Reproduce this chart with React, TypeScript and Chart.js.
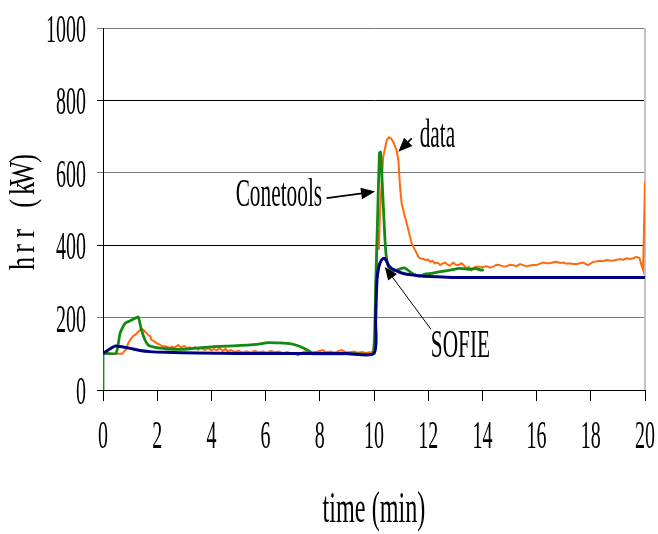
import { useEffect, useRef } from "react";
import { Chart, registerables } from "chart.js";

Chart.register(...registerables);

// Axis ticks
const timeTicks = [0, 2, 4, 6, 8, 10, 12, 14, 16, 18, 20];
const hrrTicks = [0, 200, 400, 600, 800, 1000];

// Measured heat release rate: [time (min), hrr (kW)]
const measuredHrr: [number, number][] = [
  [0, 100], [0.7, 100], [0.85, 112], [0.93, 129], [1.02, 140], [1.12, 150], [1.2, 153], [1.3, 161],
  [1.42, 170], [1.5, 166], [1.55, 161], [1.62, 157], [1.67, 152], [1.75, 148], [1.79, 138], [1.88, 135],
  [1.98, 129], [2.08, 126], [2.16, 122], [2.25, 121], [2.34, 120], [2.45, 116], [2.55, 119], [2.65, 117],
  [2.77, 124], [2.88, 118], [3.0, 121], [3.1, 116], [3.2, 118], [3.3, 114], [3.4, 119], [3.5, 112],
  [3.62, 116], [3.75, 111], [3.88, 115], [4.0, 110], [4.1, 113], [4.2, 110], [4.3, 116], [4.42, 108],
  [4.52, 114], [4.6, 107], [4.72, 110], [4.85, 105], [5.0, 108], [5.15, 104], [5.3, 107], [5.45, 103],
  [5.6, 108], [5.75, 104], [5.9, 106], [6.05, 103], [6.2, 108], [6.35, 104], [6.5, 106], [6.65, 102],
  [6.8, 105], [6.95, 101], [7.1, 99], [7.2, 96], [7.3, 102], [7.45, 106], [7.6, 103], [7.75, 104],
  [7.9, 106], [8.1, 110], [8.25, 104], [8.4, 106], [8.55, 103], [8.7, 108], [8.8, 110], [8.95, 105],
  [9.1, 104], [9.25, 106], [9.4, 103], [9.55, 105], [9.7, 102], [9.85, 104], [9.97, 106], [10.04, 138],
  [10.13, 442], [10.18, 387], [10.22, 488], [10.34, 644], [10.47, 690], [10.55, 698], [10.63, 695],
  [10.71, 686], [10.83, 663], [10.9, 635], [10.96, 562], [11.02, 516], [11.14, 479], [11.27, 442],
  [11.39, 405], [11.51, 387], [11.64, 368], [11.7, 364], [11.82, 362], [11.9, 359], [12.0, 360],
  [12.07, 354], [12.15, 357], [12.25, 350], [12.35, 352], [12.44, 345], [12.53, 349], [12.62, 352],
  [12.72, 346], [12.8, 343], [12.92, 352], [13.0, 347], [13.1, 345], [13.23, 350], [13.32, 344],
  [13.42, 336], [13.5, 340], [13.6, 331], [13.7, 338], [13.79, 341], [13.97, 339], [14.16, 342],
  [14.3, 338], [14.4, 341], [14.52, 346], [14.65, 345], [14.78, 341], [14.9, 342], [15.02, 346],
  [15.14, 345], [15.26, 342], [15.39, 348], [15.5, 345], [15.63, 341], [15.75, 344], [15.87, 345],
  [16.0, 345], [16.12, 349], [16.25, 352], [16.38, 350], [16.5, 350], [16.62, 353], [16.74, 354],
  [16.87, 351], [16.99, 352], [17.1, 349], [17.23, 350], [17.35, 348], [17.48, 348], [17.6, 350],
  [17.72, 352], [17.82, 348], [17.9, 345], [18.0, 350], [18.09, 354], [18.2, 355], [18.34, 357],
  [18.45, 356], [18.58, 359], [18.7, 358], [18.83, 357], [18.95, 360], [19.08, 361], [19.2, 360],
  [19.32, 364], [19.45, 362], [19.57, 364], [19.69, 368], [19.8, 364], [19.87, 345], [19.93, 332],
  [20.0, 575],
];

// Conetools prediction
const conetoolsHrr: [number, number][] = [
  [0, 0], [0, 100], [0.48, 101], [0.63, 157], [0.81, 184], [1.0, 191], [1.18, 198], [1.3, 202],
  [1.42, 166], [1.55, 138], [1.67, 124], [1.92, 118], [2.35, 114], [2.84, 112], [3.33, 115],
  [4.07, 120], [4.8, 122], [5.67, 126], [6.1, 131], [6.5, 130], [6.9, 128], [7.27, 120], [7.64, 106],
  [7.76, 100], [8.5, 100], [9.5, 100], [9.97, 100], [10.06, 285], [10.13, 470], [10.2, 654],
  [10.24, 657], [10.31, 562], [10.38, 451], [10.44, 378], [10.53, 341], [10.65, 331], [10.83, 331],
  [11.02, 336], [11.14, 337], [11.32, 327], [11.51, 318], [11.7, 315], [11.88, 320], [12.13, 322],
  [12.44, 327], [12.8, 331], [13.17, 336], [13.54, 333], [13.73, 336], [13.97, 331], [14.05, 333],
];

// SOFIE prediction
const sofieHrr: [number, number][] = [
  [0, 101], [0.44, 121], [0.63, 120], [1.0, 115], [1.37, 109], [1.73, 106], [2.34, 104], [3.5, 102],
  [5, 101], [7, 101], [9, 101], [10.0, 101], [10.06, 193], [10.11, 304], [10.18, 341], [10.28, 359],
  [10.37, 364], [10.44, 359], [10.53, 345], [10.65, 336], [10.83, 329], [11.08, 322], [11.39, 318],
  [11.76, 315], [12.25, 313], [12.9, 311], [14, 311], [20, 311],
];

// Callout labels (anchored at text baseline centre, in data units) and their arrows
const calloutText = ["data", "Conetools", "SOFIE"];
const calloutAnchor: [number, number][] = [[12.34, 671], [6.49, 508], [13.19, 91]];
const calloutArrowFrom: [number, number][] = [[11.39, 695], [8.25, 530], [12.1, 168]];
const calloutArrowTo: [number, number][] = [[10.9, 658], [10.04, 548], [10.4, 340]];

const SERIF = '"Liberation Serif", "DejaVu Serif", serif';

function squeezedText(
  ctx: CanvasRenderingContext2D,
  text: string,
  x: number,
  y: number,
  font: string,
  sx: number,
  align: CanvasTextAlign,
  rotate = 0
) {
  ctx.save();
  ctx.translate(x, y);
  if (rotate) ctx.rotate(rotate);
  ctx.scale(sx, 1);
  ctx.font = font;
  ctx.fillStyle = "#000";
  ctx.textAlign = align;
  ctx.textBaseline = "alphabetic";
  ctx.fillText(text, 0, 0);
  ctx.restore();
}

// Typewriter-style text: every character on a fixed advance, rotated for the y title
function monoText(
  ctx: CanvasRenderingContext2D,
  text: string,
  cx: number,
  cy: number,
  font: string,
  sx: number,
  advance: number,
  rotate: number
) {
  ctx.save();
  ctx.translate(cx, cy);
  ctx.rotate(rotate);
  ctx.font = font;
  ctx.fillStyle = "#000";
  ctx.textAlign = "center";
  ctx.textBaseline = "alphabetic";
  const chars = Array.from(text);
  chars.forEach((ch, i) => {
    const off = (i - (chars.length - 1) / 2) * advance;
    ctx.save();
    ctx.translate(off, 0);
    ctx.scale(sx, 1);
    ctx.fillText(ch, 0, 0);
    ctx.restore();
  });
  ctx.restore();
}

function arrow(ctx: CanvasRenderingContext2D, x1: number, y1: number, x2: number, y2: number, w: number, head: number) {
  const ang = Math.atan2(y2 - y1, x2 - x1);
  ctx.save();
  ctx.strokeStyle = "#000";
  ctx.fillStyle = "#000";
  ctx.lineWidth = w;
  ctx.beginPath();
  ctx.moveTo(x1, y1);
  ctx.lineTo(x2 - Math.cos(ang) * head * 0.8, y2 - Math.sin(ang) * head * 0.8);
  ctx.stroke();
  ctx.beginPath();
  ctx.moveTo(x2, y2);
  ctx.lineTo(x2 - head * Math.cos(ang) + head * 0.42 * Math.sin(ang), y2 - head * Math.sin(ang) - head * 0.42 * Math.cos(ang));
  ctx.lineTo(x2 - head * Math.cos(ang) - head * 0.42 * Math.sin(ang), y2 - head * Math.sin(ang) + head * 0.42 * Math.cos(ang));
  ctx.closePath();
  ctx.fill();
  ctx.restore();
}

const framePlugin = {
  id: "frameAndText",
  beforeDatasetsDraw(chart: any) {
    const { ctx, chartArea } = chart;
    ctx.save();
    ctx.strokeStyle = "#c4c4c4";
    ctx.lineWidth = 2;
    ctx.beginPath();
    ctx.moveTo(chartArea.right, chartArea.top);
    ctx.lineTo(chartArea.right, chartArea.bottom);
    ctx.stroke();
    ctx.restore();
  },
  afterDraw(chart: any) {
    const { ctx, chartArea, scales } = chart;
    const xs = scales.x;
    const ys = scales.y;
    const tickFont = `40px ${SERIF}`;
    hrrTicks.forEach((v) => {
      squeezedText(ctx, String(v), chartArea.left - 17, ys.getPixelForValue(v) + 14, tickFont, 0.5, "right");
    });
    timeTicks.forEach((t) => {
      squeezedText(ctx, String(t), xs.getPixelForValue(t), chartArea.bottom + 58, tickFont, 0.5, "center");
    });
    squeezedText(ctx, "time (min)", (chartArea.left + chartArea.right) / 2, chartArea.bottom + 132, `44px ${SERIF}`, 0.55, "center");
    monoText(ctx, "hrr (kW)", 34, (chartArea.top + chartArea.bottom) / 2 + 2, `35px ${SERIF}`, 0.75, 15, -Math.PI / 2);

    calloutText.forEach((txt, i) => {
      const [t, v] = calloutAnchor[i];
      squeezedText(ctx, txt, xs.getPixelForValue(t), ys.getPixelForValue(v), `41px ${SERIF}`, 0.52, "center");
    });
    calloutArrowFrom.forEach((from, i) => {
      const to = calloutArrowTo[i];
      const thin = i === 2;
      arrow(
        ctx,
        xs.getPixelForValue(from[0]), ys.getPixelForValue(from[1]),
        xs.getPixelForValue(to[0]), ys.getPixelForValue(to[1]),
        thin ? 1 : 1.6, thin ? 13 : 14
      );
    });
  },
};

const toPoints = (rows: [number, number][]) => rows.map(([x, y]) => ({ x, y }));

export default function App() {
  const canvasRef = useRef<HTMLCanvasElement>(null);

  useEffect(() => {
    if (!canvasRef.current) return;
    const chart = new Chart(canvasRef.current, {
      type: "line",
      data: {
        datasets: [
          {
            label: "SOFIE",
            data: toPoints(sofieHrr),
            borderColor: "#000080",
            borderWidth: 3,
            pointRadius: 0,
            tension: 0.25,
            order: 0,
          },
          {
            label: "Conetools",
            data: toPoints(conetoolsHrr),
            borderColor: "#138a13",
            borderWidth: 2.8,
            pointRadius: 0,
            tension: 0.15,
            order: 1,
          },
          {
            label: "data",
            data: toPoints(measuredHrr),
            borderColor: "#ff6a0e",
            borderWidth: 2,
            pointRadius: 0,
            tension: 0,
            order: 2,
          },
        ],
      },
      options: {
        animation: false,
        responsive: true,
        maintainAspectRatio: false,
        layout: { padding: { left: 97, right: 13, top: 28, bottom: 133 } },
        plugins: { legend: { display: false }, tooltip: { enabled: false } },
        scales: {
          x: {
            type: "linear",
            min: 0,
            max: 20,
            ticks: { display: false, stepSize: 2 },
            grid: { drawOnChartArea: false, drawTicks: true, tickLength: 11, color: "#000", lineWidth: 1 },
            border: { display: true, color: "#000", width: 1 },
          },
          y: {
            min: 0,
            max: 1000,
            ticks: { display: false, stepSize: 200 },
            grid: {
              drawTicks: true,
              tickLength: 6,
              color: (c: any) => (c.tick && c.tick.value % 400 === 0 ? "#000" : "#7a7a7a"),
              lineWidth: 1,
            },
            border: { display: true, color: "#000", width: 1 },
          },
        },
      },
      plugins: [framePlugin],
    });
    return () => chart.destroy();
  }, []);

  return (
    <div style={{ position: "fixed", left: 0, top: 0, width: 658, height: 534, background: "#fff" }}>
      <canvas ref={canvasRef} style={{ display: "block" }} />
    </div>
  );
}
